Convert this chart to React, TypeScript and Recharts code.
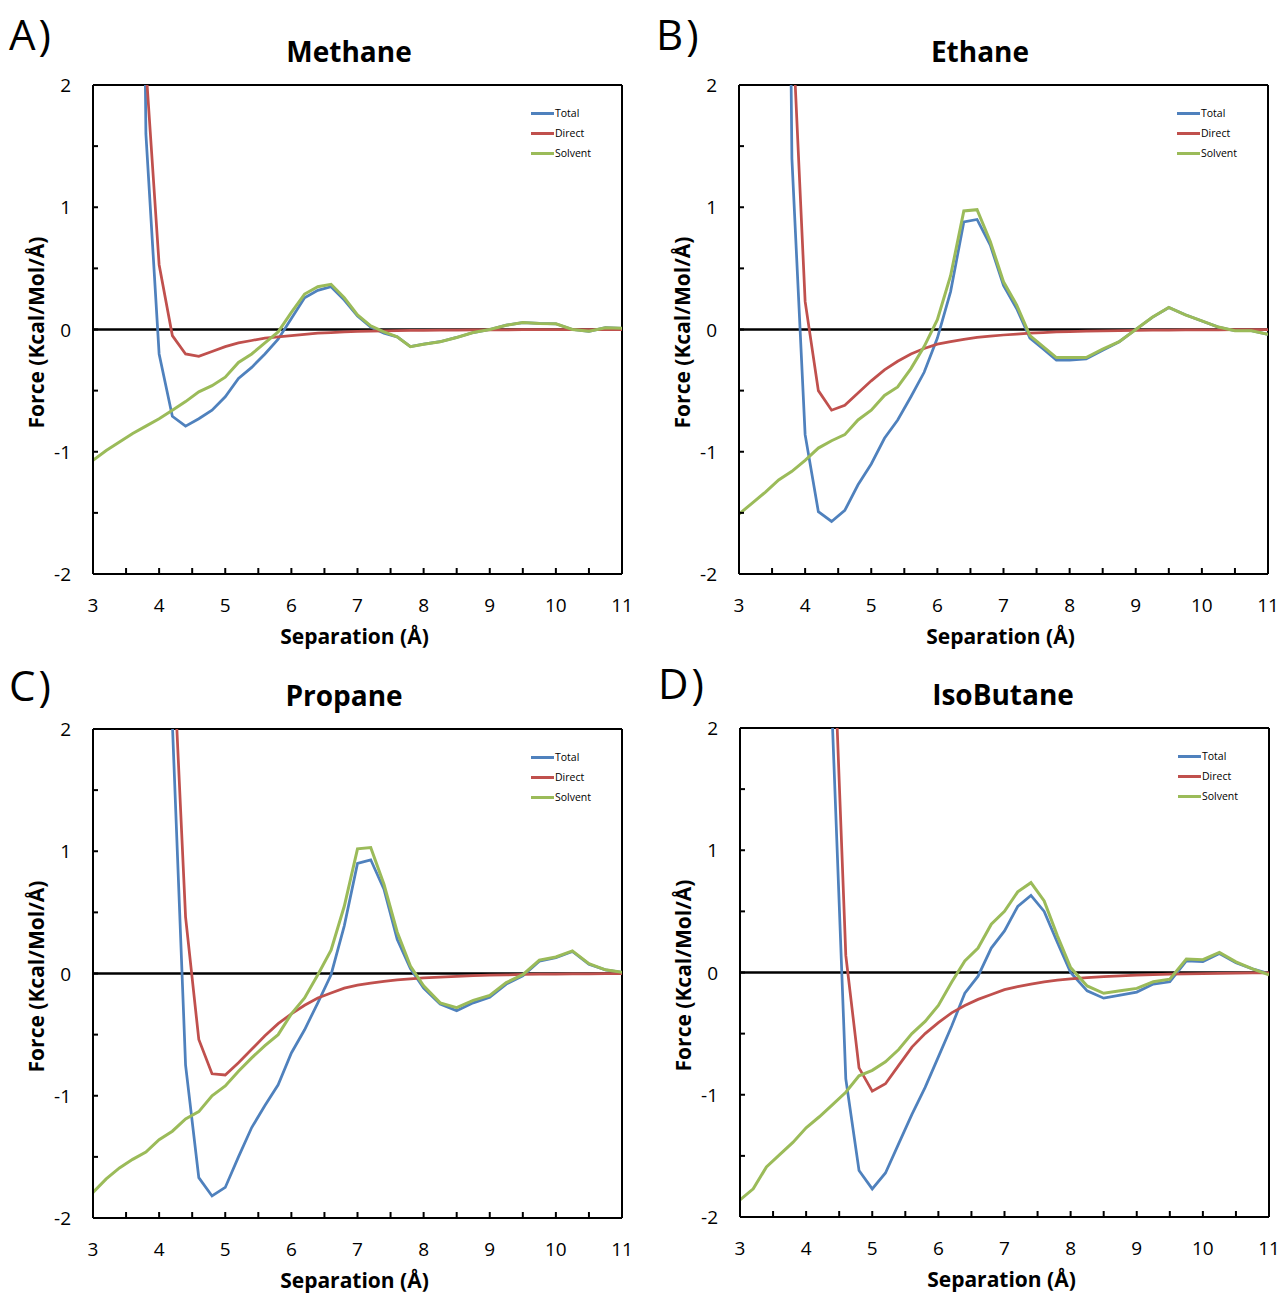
import { LineChart, Line, XAxis, YAxis, ReferenceLine, Legend } from 'recharts';

// separation in Å (0.2 steps up to 8, then 0.25 steps)
const separation = [
  3, 3.2, 3.4, 3.6, 3.8, 4, 4.2, 4.4, 4.6, 4.8, 5, 5.2, 5.4, 5.6, 5.8, 6, 6.2, 6.4, 6.6, 6.8,
  7, 7.2, 7.4, 7.6, 7.8, 8, 8.25, 8.5, 8.75, 9, 9.25, 9.5, 9.75, 10, 10.25, 10.5, 10.75, 11,
];

const methaneTotal = [
  null, null, null, 12, 1.6, -0.2, -0.71, -0.79, -0.73, -0.66, -0.55, -0.4, -0.31, -0.2, -0.08, 0.09, 0.26, 0.32, 0.35, 0.24,
  0.11, 0.02, -0.03, -0.06, -0.14, -0.12, -0.1, -0.065, -0.025, 0, 0.035, 0.057, 0.05, 0.047, 0, -0.015, 0.015, 0.01,
];
const methaneDirect = [
  null, null, null, 14, 2.15, 0.53, -0.05, -0.2, -0.22, -0.18, -0.14, -0.11, -0.09, -0.07, -0.06, -0.05, -0.04, -0.03, -0.025, -0.02,
  -0.016, -0.013, -0.011, -0.009, -0.008, -0.007, -0.006, -0.005, -0.004, -0.003, -0.003, -0.002, -0.002, -0.002, -0.001, -0.001, -0.001, -0.001,
];
const methaneSolvent = [
  -1.07, -0.99, -0.92, -0.85, -0.79, -0.73, -0.66, -0.59, -0.51, -0.46, -0.39, -0.27, -0.2, -0.11, -0.02, 0.14, 0.29, 0.35, 0.37, 0.26,
  0.12, 0.03, -0.02, -0.06, -0.14, -0.12, -0.1, -0.065, -0.025, 0, 0.035, 0.057, 0.05, 0.047, 0, -0.015, 0.015, 0.01,
];

const ethaneTotal = [
  null, null, null, 12, 1.4, -0.86, -1.49, -1.57, -1.48, -1.27, -1.1, -0.89, -0.74, -0.55, -0.35, -0.07, 0.31, 0.88, 0.9, 0.69,
  0.36, 0.17, -0.07, -0.16, -0.25, -0.25, -0.24, -0.17, -0.1, 0, 0.1, 0.18, 0.12, 0.07, 0.02, -0.01, -0.01, -0.04,
];
const ethaneDirect = [
  null, null, null, 15, 2.6, 0.23, -0.5, -0.66, -0.62, -0.52, -0.42, -0.33, -0.26, -0.2, -0.155, -0.12, -0.1, -0.08, -0.065, -0.055,
  -0.045, -0.037, -0.03, -0.025, -0.02, -0.017, -0.014, -0.011, -0.009, -0.007, -0.006, -0.005, -0.004, -0.003, -0.003, -0.002, -0.002, -0.001,
];
const ethaneSolvent = [
  -1.51, -1.42, -1.33, -1.23, -1.16, -1.07, -0.97, -0.91, -0.86, -0.74, -0.66, -0.54, -0.47, -0.32, -0.14, 0.08, 0.44, 0.97, 0.98, 0.72,
  0.39, 0.2, -0.05, -0.14, -0.23, -0.23, -0.23, -0.16, -0.1, 0, 0.1, 0.18, 0.12, 0.07, 0.02, -0.01, -0.01, -0.04,
];

const propaneTotal = [
  null, null, null, null, null, 14, 2.05, -0.75, -1.67, -1.82, -1.75, -1.5, -1.26, -1.08, -0.91, -0.65, -0.46, -0.24, -0.01, 0.39,
  0.9, 0.93, 0.69, 0.28, 0.04, -0.12, -0.25, -0.305, -0.24, -0.195, -0.087, -0.02, 0.1, 0.13, 0.18, 0.076, 0.03, 0.01,
];
const propaneDirect = [
  null, null, null, null, null, 16, 2.8, 0.46, -0.54, -0.82, -0.83, -0.73, -0.62, -0.51, -0.41, -0.33, -0.26, -0.2, -0.16, -0.12,
  -0.095, -0.078, -0.064, -0.053, -0.044, -0.036, -0.029, -0.023, -0.018, -0.014, -0.011, -0.008, -0.006, -0.005, -0.004, -0.003, -0.002, -0.001,
];
const propaneSolvent = [
  -1.79, -1.68, -1.59, -1.52, -1.46, -1.36, -1.29, -1.19, -1.13, -1, -0.92, -0.8, -0.69, -0.59, -0.5, -0.33, -0.2, -0.01, 0.19, 0.55,
  1.02, 1.03, 0.73, 0.34, 0.06, -0.1, -0.24, -0.28, -0.22, -0.18, -0.074, -0.01, 0.11, 0.135, 0.185, 0.08, 0.03, 0.01,
];

const isobutaneTotal = [
  null, null, null, null, null, null, 14, 2.0, -0.87, -1.62, -1.77, -1.64, -1.4, -1.16, -0.94, -0.69, -0.44, -0.17, -0.03, 0.2,
  0.34, 0.54, 0.63, 0.5, 0.245, 0, -0.15, -0.21, -0.185, -0.16, -0.095, -0.076, 0.095, 0.09, 0.155, 0.08, 0.03, -0.01,
];
const isobutaneDirect = [
  null, null, null, null, null, null, 16, 3.0, 0.14, -0.78, -0.97, -0.91, -0.76, -0.61, -0.5, -0.41, -0.33, -0.27, -0.22, -0.18,
  -0.14, -0.115, -0.095, -0.076, -0.063, -0.052, -0.042, -0.034, -0.027, -0.022, -0.018, -0.014, -0.011, -0.009, -0.007, -0.005, -0.004, -0.003,
];
const isobutaneSolvent = [
  -1.86, -1.77, -1.59, -1.49, -1.39, -1.27, -1.18, -1.08, -0.98, -0.845, -0.8, -0.73, -0.63, -0.5, -0.4, -0.27, -0.08, 0.095, 0.2, 0.395,
  0.5, 0.66, 0.735, 0.585, 0.3, 0.04, -0.11, -0.17, -0.15, -0.13, -0.076, -0.055, 0.11, 0.105, 0.165, 0.087, 0.03, -0.02,
];

const xTicks = [3, 3.5, 4, 4.5, 5, 5.5, 6, 6.5, 7, 7.5, 8, 8.5, 9, 9.5, 10, 10.5, 11];
const yTicks = [-2, -1.5, -1, -0.5, 0, 0.5, 1, 1.5, 2];
const legendOrder = ['Total', 'Direct', 'Solvent'];

const FONT = '"Open Sans", sans-serif';
const BLUE = '#4F81BD';
const RED = '#C0504D';
const GREEN = '#9BBB59';

const PLOT_W = 529;
const PLOT_H = 489;
const ML = 80; // y axis width inside the chart
const MT = 20;
const XH = 50; // x axis height

function buildRows(total: (number | null)[], direct: (number | null)[], solvent: number[]) {
  return separation.map((x, i) => ({ x, total: total[i], direct: direct[i], solvent: solvent[i] }));
}

const panels = [
  { key: 'a', letter: 'A)', title: 'Methane', left: 93, top: 85, letterX: 9, letterY: 50, titleX: 349, titleY: 62, rows: buildRows(methaneTotal, methaneDirect, methaneSolvent) },
  { key: 'b', letter: 'B)', title: 'Ethane', left: 739, top: 85, letterX: 656, letterY: 50, titleX: 980, titleY: 62, rows: buildRows(ethaneTotal, ethaneDirect, ethaneSolvent) },
  { key: 'c', letter: 'C)', title: 'Propane', left: 93, top: 729, letterX: 9, letterY: 701, titleX: 344, titleY: 706, rows: buildRows(propaneTotal, propaneDirect, propaneSolvent) },
  { key: 'd', letter: 'D)', title: 'IsoButane', left: 740, top: 728, letterX: 658, letterY: 699, titleX: 1003, titleY: 705, rows: buildRows(isobutaneTotal, isobutaneDirect, isobutaneSolvent) },
];

const XTick = (props: any) => {
  const { x, payload } = props;
  const v = payload.value;
  const y = MT + PLOT_H;
  return (
    <g>
      {v > 3 && v < 11 && <line x1={x} x2={x} y1={y} y2={y - 6} stroke="#000" strokeWidth={2} />}
      {Number.isInteger(v) && (
        <text x={x} y={y + 38} textAnchor="middle" fontSize={19} fontFamily={FONT} fill="#000">
          {v}
        </text>
      )}
    </g>
  );
};

const YTick = (props: any) => {
  const { y, payload } = props;
  const v = payload.value;
  return (
    <g>
      {v > -2 && v < 2 && <line x1={ML} x2={ML + 5} y1={y} y2={y} stroke="#000" strokeWidth={2} />}
      {Number.isInteger(v) && (
        <text x={ML - 22} y={y + 7} textAnchor="end" fontSize={19} fontFamily={FONT} fill="#000">
          {v}
        </text>
      )}
    </g>
  );
};

const renderLegend = (props: any) => {
  const items = [...props.payload].sort((a: any, b: any) => legendOrder.indexOf(a.value) - legendOrder.indexOf(b.value));
  return (
    <div style={{ fontFamily: FONT, fontSize: 10.5, color: '#000' }}>
      {items.map((p: any) => (
        <div key={p.value} style={{ display: 'flex', alignItems: 'center', height: 20 }}>
          <span style={{ display: 'inline-block', width: 23, height: 3, background: p.color }} />
          <span style={{ marginLeft: 1 }}>{p.value}</span>
        </div>
      ))}
    </div>
  );
};

function Panel({ p }: { p: (typeof panels)[number] }) {
  return (
    <div style={{ position: 'absolute', left: p.left - ML, top: p.top - MT }}>
      <LineChart width={ML + PLOT_W + 10} height={MT + PLOT_H + XH} data={p.rows} margin={{ top: MT, right: 10, left: 0, bottom: 0 }}>
        <XAxis
          dataKey="x"
          type="number"
          domain={[3, 11]}
          ticks={xTicks}
          interval={0}
          allowDataOverflow
          height={XH}
          tickSize={0}
          tickMargin={0}
          tickLine={false}
          tick={<XTick />}
          axisLine={{ stroke: '#000', strokeWidth: 2 }}
        />
        <YAxis
          type="number"
          domain={[-2, 2]}
          ticks={yTicks}
          interval={0}
          allowDataOverflow
          width={ML}
          tickSize={0}
          tickMargin={0}
          tickLine={false}
          tick={<YTick />}
          axisLine={{ stroke: '#000', strokeWidth: 2 }}
        />
        <ReferenceLine y={2} stroke="#000" strokeWidth={2} />
        <ReferenceLine x={11} stroke="#000" strokeWidth={2} />
        <ReferenceLine y={0} stroke="#000" strokeWidth={2.5} />
        <Legend
          layout="vertical"
          align="center"
          verticalAlign="middle"
          content={renderLegend}
          wrapperStyle={{ left: ML + PLOT_W - 91, top: MT + 18, width: 90 }}
        />
        <Line name="Total" type="linear" dataKey="total" stroke={BLUE} strokeWidth={2.75} dot={false} isAnimationActive={false} />
        <Line name="Direct" type="linear" dataKey="direct" stroke={RED} strokeWidth={2.75} dot={false} isAnimationActive={false} />
        <Line name="Solvent" type="linear" dataKey="solvent" stroke={GREEN} strokeWidth={3} dot={false} isAnimationActive={false} />
      </LineChart>
    </div>
  );
}

export default function App() {
  return (
    <div style={{ position: 'absolute', left: 0, top: 0, width: 1283, height: 1294, background: '#fff', overflow: 'hidden' }}>
      {panels.map((p) => (
        <Panel key={p.key} p={p} />
      ))}
      <svg width={1283} height={1294} style={{ position: 'absolute', left: 0, top: 0, pointerEvents: 'none' }}>
        {panels.map((p) => {
          const cx = p.left + PLOT_W / 2;
          const cy = p.top + PLOT_H / 2;
          const yl = p.left - 49;
          return (
            <g key={p.key} fontFamily={FONT} fill="#000">
              <text x={p.letterX} y={p.letterY} fontSize={42} letterSpacing={3}>
                {p.letter}
              </text>
              <text x={p.titleX} y={p.titleY} textAnchor="middle" fontSize={28} fontWeight="bold">
                {p.title}
              </text>
              <text x={cx - 3} y={p.top + PLOT_H + 70} textAnchor="middle" fontSize={21} fontWeight="bold">
                Separation (Å)
              </text>
              <text x={yl} y={cy + 3} textAnchor="middle" fontSize={21} fontWeight="bold" transform={`rotate(-90 ${yl} ${cy + 3})`}>
                Force (Kcal/Mol/Å)
              </text>
            </g>
          );
        })}
      </svg>
    </div>
  );
}
